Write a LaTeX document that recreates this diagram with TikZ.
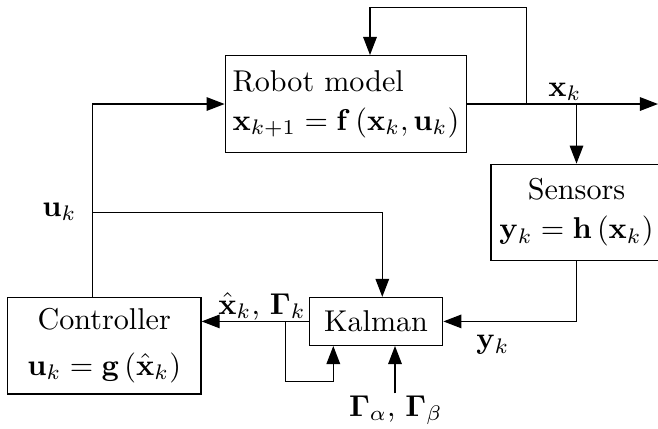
\documentclass[tikz,border=0pt]{standalone}
\usetikzlibrary{arrows.meta}
\newcommand\pxu{0.332}
\begin{document}
\begin{tikzpicture}[x=0.332pt,y=-0.332pt,
  line width=0.45pt,
  blk/.style={draw,rectangle,inner sep=0pt,align=center},
  arr/.style={-{Triangle[length=6pt,width=4.5pt]}},
  lbl/.style={inner sep=0pt}]
\clip (0,0) rectangle (658,428);
% blocks
\node[blk,align=left,minimum width={241.3*\pxu pt},minimum height={96.6*\pxu pt}] (robot) at (345.95,104)
  {Robot model\\[1pt] $\mathbf{x}_{k+1}=\mathbf{f}\left(\mathbf{x}_k,\mathbf{u}_k\right)$};
\node[blk,minimum width={171*\pxu pt},minimum height={96.4*\pxu pt}] (sensors) at (576.5,212.5)
  {Sensors\\[1pt] $\mathbf{y}_k=\mathbf{h}\left(\mathbf{x}_k\right)$};
\node[blk,minimum width={133.2*\pxu pt},minimum height={47.7*\pxu pt}] (kalman) at (376.1,321.4) {Kalman};
\node[blk,minimum width={193.5*\pxu pt},minimum height={96.5*\pxu pt}] (ctrl) at (104.2,345.7)
  {Controller\\[3pt] $\mathbf{u}_k=\mathbf{g}\left(\hat{\mathbf{x}}_k\right)$};
% coordinates
\coordinate (out) at (658,104);
\coordinate (j1) at (526.7,104);
\coordinate (fbtop) at (370,7.3);
\coordinate (j2) at (576.5,104);
\coordinate (j3) at (285.7,321.4);
\coordinate (sl) at (333.3,381.7);
\coordinate (gin) at (395,393.3);
\coordinate (ctop) at (92.7,297.5);
\coordinate (j4) at (92.7,212.7);
\coordinate (kin) at (382.3,212.7);
% connectors
\draw[arr] (robot.east) -- (out);
\draw[arr] (j1) |- (fbtop) -- (fbtop |- robot.north);
\draw[arr] (j2) -- (sensors.north);
\draw[arr] (sensors.south) |- (kalman.east);
\draw[arr] (kalman.west) -- (kalman.west -| ctrl.east);
\draw[arr] (j3) |- (sl) -- (sl |- kalman.south);
\draw[arr] (gin) -- (gin |- kalman.south);
\draw[arr] (ctop) |- (robot.west);
\draw[arr] (j4) -- (kin) -- (kin |- kalman.north);
% labels
\node[lbl] (lxk) at (565,92) {$\mathbf{x}_k$};
\node[lbl] (lyk) at (493,345) {$\mathbf{y}_k$};
\node[lbl] (luk) at (59.4,211.7) {$\mathbf{u}_k$};
\node[lbl] (lxh) at (262,306.5) {$\hat{\mathbf{x}}_k$, $\mathbf{\Gamma}_k$};
\node[lbl] (lga) at (395.8,410) {$\mathbf{\Gamma}_\alpha$, $\mathbf{\Gamma}_\beta$};
\end{tikzpicture}
\end{document}
